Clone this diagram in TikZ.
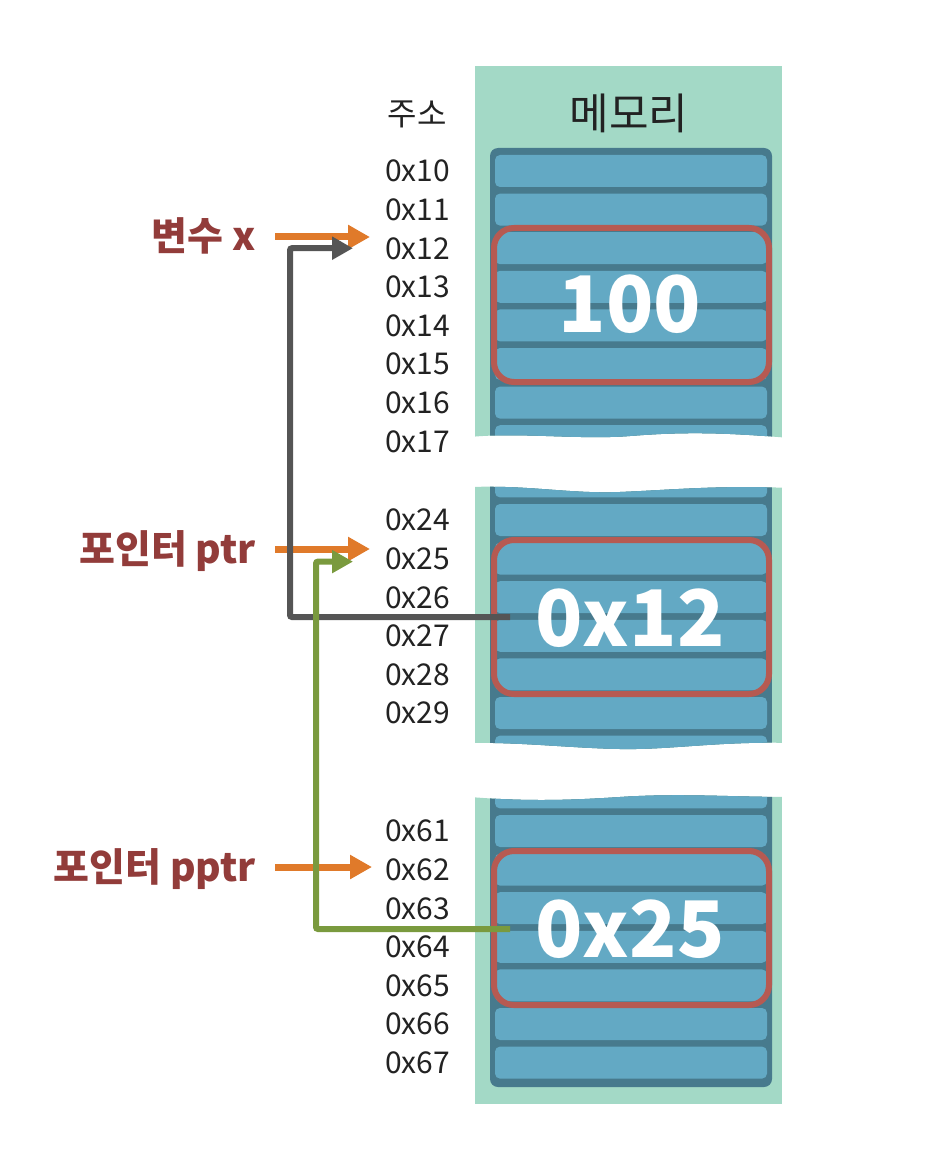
\documentclass[tikz,border=0pt]{standalone}
\usepackage{fontspec}
\setmainfont{Noto Sans CJK KR}
\usetikzlibrary{arrows.meta,calc}
\definecolor{bggreen}{HTML}{A3D9C6}
\definecolor{cellblue}{HTML}{63A9C4}
\definecolor{celldark}{HTML}{477A8D}
\definecolor{boxred}{HTML}{B65A52}
\definecolor{labred}{HTML}{923C3A}
\definecolor{arrorange}{HTML}{E07A2A}
\definecolor{arrgray}{HTML}{555555}
\definecolor{arrgreen}{HTML}{7A9A3E}
\definecolor{txtdark}{HTML}{222222}
\tikzset{
  addr/.style={anchor=west, inner sep=0pt, text height=21.6pt, text depth=0pt, font=\fontsize{30}{32}\selectfont, text=txtdark},
  head/.style={inner sep=0pt, text depth=0pt, text=txtdark},
  varlabel/.style={anchor=east, inner sep=0pt, text height=28pt, text depth=0pt, font=\fontsize{39}{42}\selectfont\bfseries, text=labred},
  valtext/.style={inner sep=0pt, text height=56pt, text depth=0pt, font=\fontsize{78}{82}\selectfont\bfseries, text=white},
  cell/.style={fill=cellblue, rounded corners=5pt},
  stackbox/.style={fill=celldark, rounded corners=8pt},
  redbox/.style={draw=boxred, line width=6pt, rounded corners=20pt},
  oarrow/.style={draw=arrorange, line width=7pt, -{Triangle[length=22pt,width=23pt]}},
  garrow/.style={draw=arrgray, line width=6pt, -{Triangle[length=21pt,width=22pt]}},
  grarrow/.style={draw=arrgreen, line width=6pt, -{Triangle[length=21pt,width=22pt]}},
}
\begin{document}
\begin{tikzpicture}[x=1pt,y=-1pt]
\useasboundingbox (0,0) rectangle (942,1166);
% ---------- section 1
\begin{scope}
\clip (470,60) -- (790,60) -- (790,438) .. controls (720,432) and (680,432) .. (630,436) .. controls (580,440) and (520,432) .. (470,437) -- cycle;
\fill[bggreen] (475,66) rectangle (782,460);
\fill[stackbox] (490,148) rectangle (772,470);
\foreach \yc in {171,209.6,248.2,286.8,325.4,364,402.6,441.2,479.8}
  \fill[cell] (495,\yc-16) rectangle (767,\yc+16);
\end{scope}
% ---------- section 2
\begin{scope}
\clip (470,487) .. controls (530,485) and (570,494) .. (620,492) .. controls (670,490) and (720,485) .. (790,488) -- (790,743) .. controls (720,741) and (670,750) .. (620,749) .. controls (570,748) and (520,742) .. (470,743) -- cycle;
\fill[bggreen] (475,470) rectangle (782,770);
\fill[celldark] (490,470) rectangle (772,770);
\foreach \yc in {442.8,481.4,520,558.6,597.2,635.8,674.4,713,751.6}
  \fill[cell] (495,\yc-16) rectangle (767,\yc+16);
\end{scope}
% ---------- section 3
\begin{scope}
\clip (470,797) .. controls (520,801) and (560,801) .. (620,797) .. controls (680,793) and (730,797) .. (790,797) -- (790,1110) -- (470,1110) -- cycle;
\fill[bggreen] (475,780) rectangle (782,1104);
\fill[stackbox] (490,770) rectangle (772,1087);
\foreach \yc in {792.4,831,869.6,908.2,946.8,985.4,1024,1062.6}
  \fill[cell] (495,\yc-16) rectangle (767,\yc+16);
\end{scope}
% ---------- red boxes
\draw[redbox] (494,228) rectangle (769,382);
\draw[redbox] (494,540) rectangle (769,694);
\draw[redbox] (494,851) rectangle (769,1005);
% ---------- headers
\node[head, text height=25pt, font=\fontsize{32}{34}\selectfont] (haddr) at (417,113) {주소};
\node[head, text height=33pt, font=\fontsize{43}{45}\selectfont] (hmem) at (629,113) {메모리};
% ---------- addresses
\node[addr] (a10) at (385,171) {0x10};
\node[addr] (a11) at (385,209.6) {0x11};
\node[addr] (a12) at (385,248.2) {0x12};
\node[addr] (a13) at (385,286.8) {0x13};
\node[addr] (a14) at (385,325.4) {0x14};
\node[addr] (a15) at (385,364) {0x15};
\node[addr] (a16) at (385,402.6) {0x16};
\node[addr] (a17) at (385,441.2) {0x17};
\node[addr] (a24) at (385,520) {0x24};
\node[addr] (a25) at (385,558.6) {0x25};
\node[addr] (a26) at (385,597.2) {0x26};
\node[addr] (a27) at (385,635.8) {0x27};
\node[addr] (a28) at (385,674.4) {0x28};
\node[addr] (a29) at (385,713) {0x29};
\node[addr] (a61) at (385,831) {0x61};
\node[addr] (a62) at (385,869.6) {0x62};
\node[addr] (a63) at (385,908.2) {0x63};
\node[addr] (a64) at (385,946.8) {0x64};
\node[addr] (a65) at (385,985.4) {0x65};
\node[addr] (a66) at (385,1024) {0x66};
\node[addr] (a67) at (385,1062.6) {0x67};
% ---------- variable labels
\node[varlabel] (vx) at (256,237) {변수 x};
\node[varlabel] (vptr) at (256,549) {포인터 ptr};
\node[varlabel] (vpptr) at (256,867) {포인터 pptr};
% ---------- values
\node[valtext] (v1) at (630,304) {100};
\node[valtext] (v2) at (630,618) {0x12};
\node[valtext] (v3) at (630,929) {0x25};
\coordinate (g2) at (510,617);
\coordinate (g3) at (510,929);
% ---------- arrows
\draw[oarrow] ([xshift=19pt]vx.east) -- ($(vx.east -| a12.west)+(-15,0)$);
\draw[oarrow] ([xshift=19pt]vptr.east) -- ($(vptr.east -| a25.west)+(-15,0)$);
\draw[oarrow] ([xshift=19pt]vpptr.east) -- ($(vpptr.east -| a62.west)+(-13,0)$);
\draw[garrow, rounded corners=2pt] (g2) -- (290,617) |- ($(a12.west)+(-32,0)$);
\draw[grarrow, rounded corners=2pt] (g3) -- (316,929) |- ($(a25.west)+(-32,3)$);
\end{tikzpicture}
\end{document}
